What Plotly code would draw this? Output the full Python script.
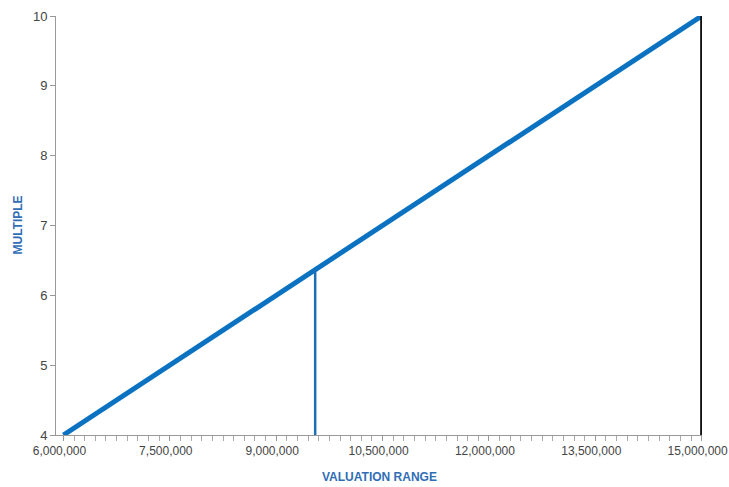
import plotly.graph_objects as go

# Data
valuation = [6000000, 15000000]
multiple = [4, 10]
marker_x = [9550000, 9550000]
marker_y = [4, 6.37]
max_x = [15000000, 15000000]
max_y = [4, 10]
x_tick_vals = [6000000, 7500000, 9000000, 10500000, 12000000, 13500000, 15000000]
x_tick_text = ["6,000,000", "7,500,000", "9,000,000", "10,500,000", "12,000,000", "13,500,000", "15,000,000"]
y_tick_vals = [4, 5, 6, 7, 8, 9, 10]

FONT = "Liberation Sans Narrow, Arial Narrow, Liberation Sans, Arial, sans-serif"
TITLE_COLOR = "#2f6eb5"

fig = go.Figure()
fig.add_trace(go.Scatter(x=valuation, y=multiple, mode="lines",
                         line=dict(color="#0b72c1", width=5), hoverinfo="skip",
                         cliponaxis=False))
fig.add_trace(go.Scatter(x=marker_x, y=marker_y, mode="lines",
                         line=dict(color="#1c6fb6", width=2.5), hoverinfo="skip"))
fig.add_trace(go.Scatter(x=max_x, y=max_y, mode="lines",
                         line=dict(color="#111111", width=3), hoverinfo="skip",
                         cliponaxis=False))

fig.update_layout(
    width=729, height=487,
    margin=dict(l=56, r=27, t=16, b=52),
    paper_bgcolor="white", plot_bgcolor="white",
    showlegend=False,
    hovermode=False,
    font=dict(family=FONT, size=12, color="#444444"),
    xaxis=dict(
        range=[5895000, 15005000],
        automargin=False,
        tickvals=x_tick_vals, ticktext=x_tick_text,
        ticklabeloverflow="allow",
        ticklabelshift=-4,
        ticks="outside", ticklen=5, tickcolor="#999999", tickwidth=1,
        minor=dict(dtick=150000, tick0=6000000, ticks="outside", ticklen=5,
                   tickcolor="#aaaaaa", tickwidth=1, showgrid=False),
        showline=True, linecolor="#999999", linewidth=1,
        showgrid=False, zeroline=False,
        tickfont=dict(family=FONT, size=12, color="#444444"),
    ),
    yaxis=dict(
        range=[4, 10],
        automargin=False,
        tickvals=y_tick_vals,
        ticklabeloverflow="allow",
        ticks="outside", ticklen=5, tickcolor="#999999", tickwidth=1,
        showline=True, linecolor="#999999", linewidth=1,
        showgrid=False, zeroline=False,
        tickfont=dict(family=FONT, size=13, color="#444444"),
    ),
    annotations=[
        dict(text="<b>VALUATION RANGE</b>", xref="paper", yref="paper",
             x=0.5, y=0, xanchor="center", yanchor="middle", yshift=-42,
             showarrow=False, font=dict(family=FONT, size=12, color=TITLE_COLOR)),
        dict(text="<b>MULTIPLE</b>", xref="paper", yref="paper",
             x=0, y=0.5, xanchor="center", yanchor="middle", xshift=-39,
             textangle=-90, showarrow=False,
             font=dict(family=FONT, size=12, color=TITLE_COLOR)),
    ],
)

fig.write_html(
    "out.html",
    config={"displayModeBar": False, "staticPlot": True},
    post_script="document.body.style.margin='0';document.body.style.overflow='hidden';",
)
